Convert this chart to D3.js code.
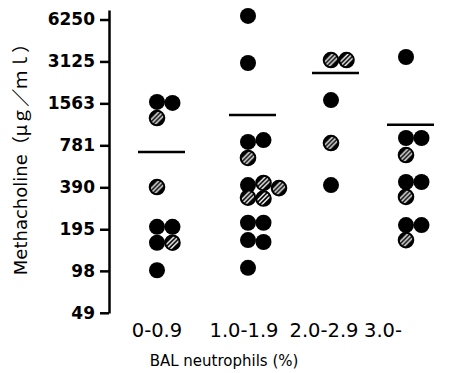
<!DOCTYPE html>
<html>
<head>
<meta charset="utf-8">
<script src="https://cdn.jsdelivr.net/npm/d3@7"></script>
<style>
  body { margin: 0; background: #fff; }
  text { font-family: "DejaVu Sans", "Noto Sans CJK JP", sans-serif; fill: #000; }
</style>
</head>
<body>
<script>
const categories = ["0-0.9", "1.0-1.9", "2.0-2.9", "3.0-"]
const yTicks = [49, 98, 195, 390, 781, 1563, 3125, 6250]
const means = [699, 1289, 2581, 1095]

// each point: value, column inside the group, filled or hatched
const group1 = [
  {v: 1600, col: 0, kind: "filled"}, {v: 1574, col: 1, kind: "filled"}, {v: 1226, col: 0, kind: "hatched"},
  {v: 392, col: 0, kind: "hatched"},
  {v: 203, col: 0, kind: "filled"}, {v: 203, col: 1, kind: "filled"},
  {v: 156, col: 0, kind: "filled"}, {v: 156, col: 1, kind: "hatched"},
  {v: 99, col: 0, kind: "filled"}
]
const group2 = [
  {v: 6630, col: 0, kind: "filled"}, {v: 3047, col: 0, kind: "filled"},
  {v: 826, col: 0, kind: "filled"}, {v: 852, col: 1, kind: "filled"}, {v: 634, col: 0, kind: "hatched"},
  {v: 405, col: 0, kind: "filled"}, {v: 419, col: 1, kind: "hatched"}, {v: 385, col: 2, kind: "hatched"},
  {v: 329, col: 0, kind: "hatched"}, {v: 324, col: 1, kind: "hatched"},
  {v: 217, col: 0, kind: "filled"}, {v: 217, col: 1, kind: "filled"},
  {v: 163, col: 0, kind: "filled"}, {v: 158, col: 1, kind: "filled"},
  {v: 103, col: 0, kind: "filled"}
]
const group3 = [
  {v: 3200, col: 0, kind: "hatched"}, {v: 3200, col: 1, kind: "hatched"},
  {v: 1651, col: 0, kind: "filled"},
  {v: 811, col: 0, kind: "hatched"},
  {v: 405, col: 0, kind: "filled"}
]
const group4 = [
  {v: 3363, col: 0, kind: "filled"},
  {v: 881, col: 0, kind: "filled"}, {v: 881, col: 1, kind: "filled"}, {v: 665, col: 0, kind: "hatched"},
  {v: 426, col: 0, kind: "filled"}, {v: 426, col: 1, kind: "filled"}, {v: 333, col: 0, kind: "hatched"},
  {v: 209, col: 0, kind: "filled"}, {v: 209, col: 1, kind: "filled"}, {v: 163, col: 0, kind: "hatched"}
]
const groups = [group1, group2, group3, group4]

const width = 449, height = 373

const svg = d3.select("body").append("svg")
    .attr("width", width)
    .attr("height", height)

// hatched marker fill: black disc with white diagonal stripes
const pat = svg.append("defs").append("pattern")
    .attr("id", "hatch")
    .attr("patternUnits", "objectBoundingBox")
    .attr("patternContentUnits", "objectBoundingBox")
    .attr("width", 1).attr("height", 1)
pat.append("rect").attr("width", 1).attr("height", 1).attr("fill", "#000")
pat.selectAll("line")
    .data([-0.3, 0, 0.3])
    .join("line")
    .attr("x1", d => d).attr("y1", 1)
    .attr("x2", d => d + 1).attr("y2", 0)
    .attr("stroke", "#fff")
    .attr("stroke-width", 0.1)

const y = d3.scaleLog().base(2)
    .domain([6250 / 128, 7315])
    .range([313, 10])

// left column of each group, and mean line centre
const x = d3.scaleOrdinal().domain(categories).range([157, 248, 331, 406])
const xLabel = d3.scaleOrdinal().domain(categories).range([157, 244, 324, 383])
const colX = d3.scaleLinear().domain([0, 1]).range([0, 15.5])

const axis = svg.append("g")
    .attr("transform", "translate(109,0)")
    .call(d3.axisLeft(y).tickValues(yTicks).tickFormat(d => d).tickSize(9).tickSizeOuter(0).tickPadding(5))
axis.select(".domain").attr("stroke-width", 2.5)
axis.selectAll(".tick line").attr("stroke-width", 2.5)
axis.selectAll(".tick text")
    .attr("font-family", "DejaVu Sans")
    .attr("font-weight", "bold")
    .attr("font-size", 17)

svg.append("text")
    .attr("transform", "translate(27,155) rotate(-90)")
    .attr("text-anchor", "middle")
    .attr("font-size", 18)
    .text("Methacholine（μｇ／ｍｌ）")

svg.selectAll(".cat")
    .data(categories)
    .join("text")
    .attr("class", "cat")
    .attr("x", d => xLabel(d))
    .attr("y", 337)
    .attr("text-anchor", "middle")
    .attr("font-size", 19.5)
    .text(d => d)

svg.append("text")
    .attr("x", 224)
    .attr("y", 366)
    .attr("text-anchor", "middle")
    .attr("font-size", 15)
    .text("BAL neutrophils (%)")

// mean lines
svg.selectAll(".mean")
    .data(categories)
    .join("line")
    .attr("class", "mean")
    .attr("x1", d => x(d) - 19)
    .attr("x2", d => x(d) + 28)
    .attr("y1", (d, i) => y(means[i]))
    .attr("y2", (d, i) => y(means[i]))
    .attr("stroke", "#000")
    .attr("stroke-width", 2.5)

const pts = groups.flatMap((g, i) => g.map(p => ({...p, cat: categories[i]})))

// filled first, hatched drawn over them
svg.selectAll(".dot")
    .data(pts.filter(d => d.kind === "filled").concat(pts.filter(d => d.kind === "hatched")))
    .join("circle")
    .attr("class", "dot")
    .attr("cx", d => x(d.cat) + colX(d.col))
    .attr("cy", d => y(d.v))
    .attr("r", d => d.kind === "filled" ? 8 : 7.3)
    .attr("fill", d => d.kind === "filled" ? "#000" : "url(#hatch)")
    .attr("stroke", "#000")
    .attr("stroke-width", d => d.kind === "filled" ? 0 : 2)
</script>
</body>
</html>
